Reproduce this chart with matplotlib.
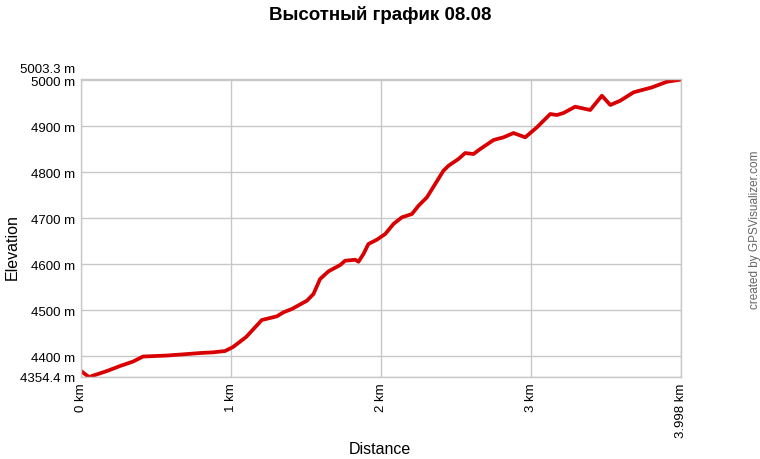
import matplotlib.pyplot as plt

# distance (km) and elevation (m)
dist_km = [0.000, 0.053, 0.173, 0.260, 0.347, 0.413, 0.573, 0.707, 0.793, 0.880,
           0.960, 1.013, 1.100, 1.205, 1.305, 1.349, 1.405, 1.505, 1.549, 1.593,
           1.649, 1.727, 1.760, 1.827, 1.849, 1.882, 1.915, 1.971, 2.027, 2.082,
           2.138, 2.205, 2.249, 2.305, 2.360, 2.415, 2.449, 2.515, 2.560, 2.615,
           2.660, 2.749, 2.815, 2.882, 2.960, 3.038, 3.127, 3.171, 3.215, 3.293,
           3.393, 3.471, 3.527, 3.593, 3.682, 3.805, 3.905, 3.993, 3.998]
elev_m = [4367.4, 4354.4, 4367.4, 4378.3, 4388.0, 4398.9, 4401.1, 4404.3, 4406.5, 4408.0,
          4410.9, 4419.6, 4441.3, 4478.3, 4486.3, 4495.0, 4502.2, 4520.2, 4534.8, 4567.4,
          4584.1, 4597.8, 4607.2, 4609.3, 4605.0, 4621.7, 4643.5, 4652.8, 4665.2, 4687.0,
          4701.5, 4708.7, 4726.7, 4745.0, 4773.9, 4802.8, 4813.7, 4828.3, 4841.3, 4839.1,
          4850.0, 4869.6, 4875.4, 4884.8, 4875.4, 4897.2, 4926.1, 4923.9, 4928.3, 4942.0,
          4934.8, 4965.9, 4945.7, 4955.0, 4973.3, 4984.1, 4996.3, 5000.7, 5003.3]

x_ticks = [0, 1, 2, 3, 3.998]
x_labels = ["0 km", "1 km", "2 km", "3 km", "3.998 km"]
y_ticks = [4354.4, 4400, 4500, 4600, 4700, 4800, 4900, 5000]
y_labels = ["4354.4 m", "4400 m", "4500 m", "4600 m", "4700 m", "4800 m", "4900 m", "5000 m"]
y_min, y_max = 4354.4, 5003.3

plt.rcParams['font.family'] = ['Liberation Sans', 'DejaVu Sans']

fig = plt.figure(figsize=(7.6, 4.6), dpi=100)
ax = fig.add_axes([81 / 760, 1 - 378 / 460, 600 / 760, (378 - 79.5) / 460])

ax.plot(dist_km, elev_m, color='#d80000', lw=2.7, solid_joinstyle='round')

ax.set_xlim(0, 3.998)
ax.set_ylim(y_min, y_max)
ax.set_xticks(x_ticks)
ax.set_xticklabels(x_labels, rotation=90, fontsize=9.5)
ax.set_yticks(y_ticks)
ax.set_yticklabels(y_labels, fontsize=9.5)
ax.tick_params(length=0, pad=4)
ax.grid(True, color='#c8c8c8', lw=1)
for s in ax.spines.values():
    s.set_color('#c8c8c8')
    s.set_linewidth(1)
ax.set_axisbelow(True)

# top value label shifted above the 5000 m tick
ax.annotate("5003.3 m", xy=(0, y_max), xycoords=('axes fraction', 'data'),
            xytext=(-4, 7), textcoords='offset points', ha='right', va='center',
            fontsize=9.5)

fig.text(380 / 760, 1 - 15 / 460, "Высотный график 08.08", ha='center', va='center',
         fontsize=13.5, fontweight='bold', family=['Liberation Sans Narrow', 'Liberation Sans', 'DejaVu Sans'])
fig.text(380 / 760, 1 - 450 / 460, "Distance", ha='center', va='center', fontsize=11.5)
fig.text(12 / 760, 1 - 247 / 460, "Elevation", ha='center', va='center', fontsize=11.5,
         rotation=90)
fig.text(755 / 760, 1 - 230 / 460, "created by GPSVisualizer.com", ha='center', va='center',
         fontsize=8.5, rotation=90, color='#666666')

fig.savefig("out.png", dpi=100)
